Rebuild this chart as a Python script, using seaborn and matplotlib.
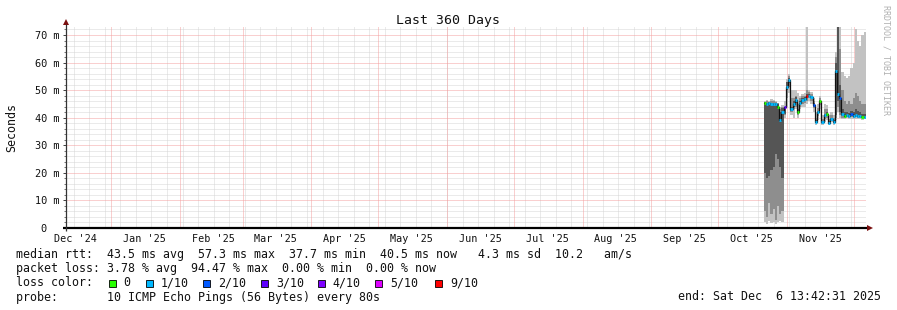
import numpy as np
import pandas as pd
import matplotlib
matplotlib.use("Agg")
import matplotlib.pyplot as plt
import matplotlib.dates as mdates
from matplotlib.patches import Rectangle
import seaborn as sns

# ---------------- data ----------------
bin_start = "2025-10-21 12:00"          # first daily bin
x_start = "2024-12-11 13:42:31"
x_end = "2025-12-06 13:42:31"

median_ms = [45.2, 45.0, 45.3, 45.0, 44.8, 45.0, 44.0, 39.0, 42.0,
             44.0, 51.0, 53.5, 43.0, 45.0, 46.5, 42.0, 45.5, 46.5, 46.8,
             48.0, 48.0, 47.5, 44.6, 38.4, 42.0, 46.0, 38.3, 41.0, 41.5,
             38.2, 39.5, 38.5, 57.0, 48.5, 47.0,
             41.2, 40.8, 41.0, 40.5, 41.3, 40.7, 40.9, 40.5, 40.6, 40.3, 40.4]
loss_idx = [0, 1, 1, 1, 1, 1, 0, 1, 1,
            3, 1, 1, 1, 1, 1, 0, 1, 1, 1,
            6, 1, 1, 2, 1, 1, 0, 1, 1, 0,
            1, 1, 1, 1, 1, 2,
            1, 0, 1, 1, 2, 1, 1, 1, 1, 0, 1]

outer_lo = [2.0, 1.5, 2.5, 1.8, 2.0, 1.5, 2.0, 2.5, 2.0,
            40, 44, 49, 41, 40, 43, 40, 43, 44, 44,
            45, 46, 45, 42, 37.5, 39, 43, 37.5, 38.5, 39,
            37.5, 38.5, 37.5, 39, 42, 40,
            39.5, 39.5, 39.8, 39.5, 39.5, 39.6, 39.5, 39.4, 39.5, 39.3, 39.4]
outer_hi = [46.0, 46.5, 46.0, 46.8, 46.5, 46.0, 45.5, 44.0, 44.5,
            46, 54, 56, 50, 50, 50, 49, 48, 48.5, 49,
            73, 50, 49.5, 47, 42, 45, 48, 41, 45, 44.5,
            41, 42, 41, 64, 73, 73,
            56.6, 55, 54.5, 55, 58, 60, 72, 68, 66, 70, 71]
mid_lo = [6, 4, 9, 5, 7, 3, 8, 5, 6,
          41, 47, 51, 42, 43, 44, 41, 44, 45, 45.5,
          46, 47, 46, 43.5, 38, 40.5, 44.5, 37.8, 39.5, 40,
          37.8, 39, 38, 40, 44, 41,
          40, 40, 40.2, 40, 40.2, 40, 40.1, 40, 40, 39.8, 39.9]
mid_hi = [45.8, 46.0, 45.8, 46.2, 46.0, 45.8, 45.2, 43.0, 44.0,
          44, 53, 55, 47, 47, 48, 45, 47, 48, 48,
          50, 49.5, 48.5, 46, 40, 43.5, 47, 39.5, 43, 43,
          39.5, 41, 40, 62, 73, 65,
          50, 46, 45, 46, 45, 47, 49, 48, 46, 45, 45]
inner_lo = [20, 18, 19, 21, 22, 27, 25, 22, 18,
            41.5, 50, 52.5, 42.5, 44, 45.5, 41.5, 45, 46, 46.2,
            47.5, 47.5, 47, 44, 38.2, 41.5, 45.5, 38, 40.5, 41,
            38, 39.2, 38.2, 41, 46, 42,
            40.5, 40.3, 40.5, 40.2, 40.6, 40.3, 40.4, 40.2, 40.3, 40.1, 40.2]
inner_hi = [45.6, 45.5, 45.6, 45.5, 45.4, 45.5, 45.0, 42.0, 43.5,
            43, 53, 54.5, 44, 46, 47.5, 43, 46, 47, 47.4,
            48.5, 48.5, 48, 45.2, 39, 42.5, 46.5, 38.8, 41.5, 42,
            38.7, 40, 39, 60, 73, 52,
            43, 42, 42, 41.8, 42.5, 42, 43, 42.5, 42, 41.5, 41.5]

loss_labels = ["0", "1/10", "2/10", "3/10", "4/10", "5/10", "9/10"]
loss_colors = ["#26ff00", "#00b8ff", "#0059ff", "#5e00ff", "#7e00ff", "#dd00ff", "#ff0000"]

y_ticks = [0, 10, 20, 30, 40, 50, 60, 70]
y_tick_labels = ["0  ", "10 m", "20 m", "30 m", "40 m", "50 m", "60 m", "70 m"]
y_max = 72.9

title = "Last 360 Days"
y_label = "Seconds"
stats_rtt = "median rtt:  43.5 ms avg  57.3 ms max  37.7 ms min  40.5 ms now   4.3 ms sd  10.2   am/s"
stats_loss = "packet loss: 3.78 % avg  94.47 % max  0.00 % min  0.00 % now"
loss_head = "loss color:"
probe_line = "probe:       10 ICMP Echo Pings (56 Bytes) every 80s"
end_line = "end: Sat Dec  6 13:42:31 2025"
side_text = "RRDTOOL / TOBI OETIKER"

# ---------------- figure ----------------
W, H = 897, 310
sns.set_theme(style="white")
MONO = ["DejaVu Sans Mono", "DejaVu Sans"]
plt.rcParams["font.family"] = MONO
plt.rcParams["axes.linewidth"] = 1.0

fig = plt.figure(figsize=(W / 100, H / 100), dpi=100)
fig.patch.set_facecolor("white")

def fx(px):
    return px / W

def fy(py):
    return 1 - py / H

ax = fig.add_axes([fx(66), fy(228), fx(866) - fx(66), fy(27) - fy(228)])
ax.set_facecolor("white")

t = mdates.date2num(pd.date_range(bin_start, periods=len(median_ms), freq="D"))
t_edges = np.append(t, t[-1] + 1)

def ext(a):
    a = np.asarray(a, float)
    return np.append(a, a[-1])

# smoke
for lo, hi, col in [(outer_lo, outer_hi, "#c2c2c2"),
                    (mid_lo, mid_hi, "#8e8e8e"),
                    (inner_lo, inner_hi, "#555555")]:
    ax.fill_between(t_edges, ext(lo), ext(hi), step="post", color=col,
                    linewidth=0, zorder=3)

# median line (dark connecting strokes)
df = pd.DataFrame({"t": t_edges, "median": ext(median_ms)})
sns.lineplot(data=df, x="t", y="median", drawstyle="steps-post", color="#111111",
             linewidth=0.9, estimator=None, ax=ax, zorder=4)
# loss coloured median stubs
ax.hlines(median_ms, t, t + 1, colors=[loss_colors[i] for i in loss_idx],
          linewidth=2.0, zorder=5)

# limits
x0 = mdates.date2num(pd.Timestamp(x_start))
x1 = mdates.date2num(pd.Timestamp(x_end))
ax.set_xlim(x0, x1)
ax.set_ylim(0, y_max)

# grid (drawn beneath data)
dash = (0, (1, 1))
gkw = dict(lw=0.72, ls=dash)
for v in np.arange(0, y_max, 2):
    if v % 10 != 0:
        ax.axhline(v, color="#d6d6d6", zorder=1, **gkw)
for wk in pd.date_range("2024-12-15", x_end, freq="7D"):
    ax.axvline(mdates.date2num(wk), color="#d6d6d6", zorder=1, **gkw)
for v in y_ticks[1:]:
    ax.axhline(v, color="#f4a0a0", zorder=2, **gkw)
for m in pd.date_range("2025-01-01", x_end, freq="MS"):
    ax.axvline(mdates.date2num(m), color="#f4a0a0", zorder=2, **gkw)

# x labels at mid month
lab_dates = [pd.Timestamp("2024-12-16")] + [pd.Timestamp(f"2025-{m:02d}-16") for m in range(1, 12)]
ax.set_xticks(mdates.date2num(lab_dates))
ax.set_xticklabels([d.strftime("%b '%y") for d in lab_dates])
ax.tick_params(axis="x", length=0, pad=4.0, labelsize=7.3, labelcolor="#111111")

ax.set_yticks(y_ticks)
ax.set_yticklabels(y_tick_labels)
ax.set_yticks(np.arange(0, y_max, 2), minor=True)
ax.tick_params(axis="y", which="major", length=2.2, width=0.72, pad=2.5,
               labelsize=7.4, labelcolor="#111111", color="#444444", direction="out", left=True)
ax.tick_params(axis="y", which="minor", length=1.5, width=0.72, color="#777777",
               direction="out", left=True)
ax.set_xlabel("")
ax.set_ylabel("")

for s in ["top", "right", "left", "bottom"]:
    ax.spines[s].set_visible(False)

# axes lines with arrows
ax.plot([-0.004, 1.004], [0, 0], transform=ax.transAxes, color="black",
        lw=1.6, clip_on=False, zorder=6, solid_capstyle="butt")
ax.plot([0, 0], [-0.015, 1.02], transform=ax.transAxes, color="#333333",
        lw=0.9, clip_on=False, zorder=6, solid_capstyle="butt")
ax.plot([1.0055], [0], marker=">", transform=ax.transAxes, color="#7a1010",
        markersize=4.2, clip_on=False, zorder=7, markeredgewidth=0)
ax.plot([0], [1.027], marker="^", transform=ax.transAxes, color="#7a1010",
        markersize=4.2, clip_on=False, zorder=7, markeredgewidth=0)

# texts
fig.text(fx(447.7), fy(24.0), title, ha="center", va="baseline",
         fontsize=9.5, color="#111111")
fig.text(fx(11.5), fy(127.5), y_label, ha="center", va="center",
         rotation=90, fontsize=8.4, color="#111111")
fig.text(fx(886), fy(5), side_text, ha="center", va="top", rotation=270,
         fontsize=6.0, color="#b0b0b0")

LEG_FS = 8.37
fig.text(fx(16), fy(258.3), stats_rtt, ha="left", va="baseline", fontsize=LEG_FS, color="#111111")
fig.text(fx(16), fy(272.3), stats_loss, ha="left", va="baseline", fontsize=LEG_FS, color="#111111")
fig.text(fx(16), fy(286.5), loss_head, ha="left", va="baseline", fontsize=LEG_FS, color="#111111")
fig.text(fx(16), fy(300.5), probe_line, ha="left", va="baseline", fontsize=LEG_FS, color="#111111")
fig.text(fx(880.5), fy(300.5), end_line, ha="right", va="baseline", fontsize=LEG_FS, color="#111111")

box_x = [108.7, 145.7, 203.3, 261.0, 317.7, 375.0, 435.0]
for bx, col, lab in zip(box_x, loss_colors, loss_labels):
    fig.patches.append(Rectangle((fx(bx), fy(286.5)), 7 / W, 7 / H,
                                 transform=fig.transFigure, facecolor=col,
                                 edgecolor="black", linewidth=0.6))
    fig.text(fx(bx + 14.8), fy(286.5), lab, ha="left", va="baseline",
             fontsize=LEG_FS, color="#111111")

fig.savefig("out.png", dpi=100, facecolor="white")
